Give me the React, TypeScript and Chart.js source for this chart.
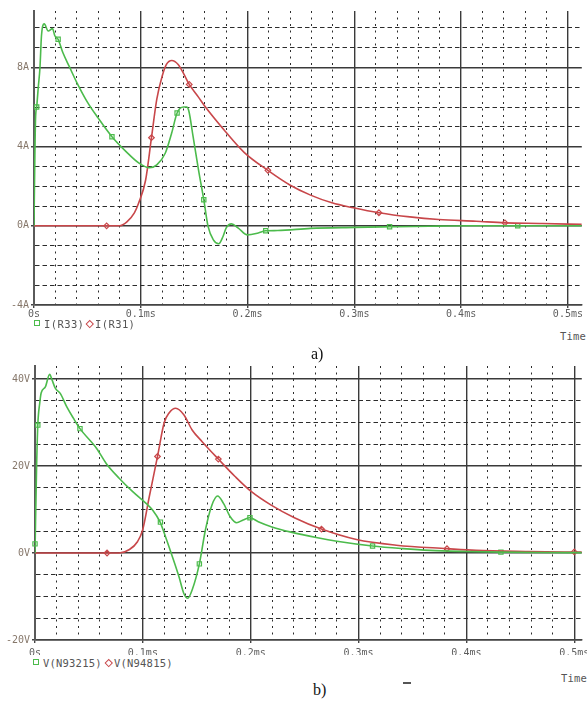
import React, { useEffect, useRef } from 'react';
import { Chart, registerables } from 'chart.js';
Chart.register(...registerables);

// ---------- shared x axis (time, ms) ----------
const xTickValues = [0, 0.1, 0.2, 0.3, 0.4, 0.5];
const xTickLabels = ['0s', '0.1ms', '0.2ms', '0.3ms', '0.4ms', '0.5ms'];

// ---------- panel a) currents ----------
const aGreenT = [0, 0.0008, 0.0015, 0.0025, 0.004, 0.0056, 0.007, 0.0096, 0.0133, 0.0173, 0.0195, 0.0226, 0.027, 0.033, 0.04, 0.05, 0.06, 0.073, 0.086, 0.098, 0.108, 0.115, 0.123, 0.129, 0.134, 0.14, 0.143, 0.145, 0.149, 0.154, 0.159, 0.163, 0.168, 0.173, 0.177, 0.18, 0.185, 0.191, 0.2, 0.21, 0.217, 0.228, 0.259, 0.3, 0.333, 0.37, 0.407, 0.453, 0.513];
const aGreenI = [0, 3.5, 5.5, 6.0, 7.0, 8.0, 9.6, 10.2, 9.84, 9.96, 9.6, 9.42, 8.75, 8.05, 7.25, 6.25, 5.45, 4.5, 3.76, 3.18, 2.93, 3.08, 3.68, 4.7, 5.7, 6.0, 6.0, 5.8, 4.5, 2.84, 1.32, -0.03, -0.71, -0.91, -0.54, -0.1, 0.1, -0.1, -0.46, -0.36, -0.25, -0.24, -0.13, -0.08, -0.05, -0.02, 0, 0, 0];
const aRedT = [0, 0.068, 0.08, 0.087, 0.094, 0.098, 0.1045, 0.11, 0.115, 0.12, 0.124, 0.129, 0.135, 0.14, 0.1454, 0.154, 0.16, 0.179, 0.197, 0.219, 0.24, 0.259, 0.279, 0.299, 0.323, 0.352, 0.379, 0.414, 0.441, 0.476, 0.513];
const aRedI = [0, 0, 0, 0.2, 0.65, 1.15, 2.3, 4.45, 6.4, 7.55, 8.15, 8.35, 8.15, 7.7, 7.14, 6.5, 6.04, 4.78, 3.7, 2.8, 2.05, 1.55, 1.16, 0.91, 0.66, 0.45, 0.32, 0.23, 0.15, 0.12, 0.07];
const aGreenMarkT = [0.0025, 0.0226, 0.073, 0.134, 0.159, 0.217, 0.333, 0.453];
const aGreenMarkI = [6.0, 9.42, 4.5, 5.7, 1.32, -0.25, -0.05, 0];
const aRedMarkT = [0.068, 0.11, 0.1454, 0.219, 0.323, 0.441];
const aRedMarkI = [0, 4.45, 7.14, 2.8, 0.66, 0.15];
const aYTickValues = [-4, 0, 4, 8];
const aYTickLabels = ['-4A', '0A', '4A', '8A'];

// ---------- panel b) voltages ----------
const bGreenT = [0, 0.0005, 0.0015, 0.0026, 0.0044, 0.0057, 0.0096, 0.0136, 0.0158, 0.0188, 0.0234, 0.0295, 0.0356, 0.0417, 0.057, 0.066, 0.078, 0.0906, 0.103, 0.109, 0.1158, 0.121, 0.1274, 0.1335, 0.138, 0.1417, 0.1457, 0.1524, 0.158, 0.164, 0.1693, 0.1748, 0.181, 0.187, 0.193, 0.1993, 0.207, 0.219, 0.2374, 0.262, 0.28, 0.313, 0.341, 0.366, 0.4, 0.432, 0.47, 0.507];
const bGreenV = [0, 7, 20, 29.4, 34.5, 36.8, 38.2, 41.1, 39.8, 37.9, 36.7, 33.6, 31.0, 28.6, 24.1, 20.6, 17.2, 14.1, 11.4, 9.9, 7.2, 3.75, -0.85, -5.45, -9.3, -10.4, -8.5, -2.5, 5.3, 11.0, 13.1, 11.4, 8.35, 6.97, 7.6, 8.1, 7.2, 6.05, 4.8, 3.5, 2.7, 1.6, 1.0, 0.6, 0.35, 0.2, 0.12, 0.08];
const bRedT = [0, 0.0668, 0.078, 0.0876, 0.095, 0.0998, 0.106, 0.1136, 0.1197, 0.1243, 0.1305, 0.138, 0.1457, 0.155, 0.17, 0.1855, 0.2007, 0.219, 0.2405, 0.2656, 0.298, 0.335, 0.382, 0.409, 0.457, 0.507];
const bRedV = [0, 0, 0, 0.8, 2.6, 5.3, 13, 22.2, 29.9, 32.2, 33.3, 31.8, 28.3, 25.6, 21.6, 17.6, 14.1, 11.0, 8.1, 5.5, 3.1, 1.8, 1.0, 0.6, 0.35, 0.2];
const bGreenMarkT = [0, 0.0026, 0.0417, 0.1163, 0.1524, 0.1993, 0.313, 0.432];
const bGreenMarkV = [2.1, 29.4, 28.6, 7.1, -2.5, 8.1, 1.6, 0.2];
const bRedMarkT = [0.0668, 0.1136, 0.17, 0.2656, 0.382, 0.5];
const bRedMarkV = [0, 22.2, 21.6, 5.5, 1.0, 0.25];
const bYTickValues = [-20, 0, 20, 40];
const bYTickLabels = ['-20V', '0V', '20V', '40V'];

const GREEN = '#4cbb4c';
const RED = '#c8474a';
const MONO = '"DejaVu Sans Mono", monospace';

type Spec = {
  lines: { t: number[]; v: number[]; color: string }[];
  marks: { t: number[]; v: number[]; color: string; style: string; r: number }[];
  xMax: number;
  yMin: number;
  yMax: number;
  yStep: number;
  yTop: number;
  yTickValues: number[];
  yTickLabels: string[];
  yWidth: number;
  padTop: number;
  xLabelPad: number;
};

const near = (a: number, b: number) => Math.abs(a - b) < 1e-6;

function buildChart(canvas: HTMLCanvasElement, s: Spec) {
  const xGrid: number[] = [];
  for (let k = 0; k <= 25; k++) xGrid.push(Math.round(k * 2) / 100);
  const yGrid: number[] = [];
  for (let v = s.yMin; v <= s.yTop + 1e-9; v += s.yStep) yGrid.push(v);
  const isXMajor = (v: number) => xTickValues.some((m) => near(m, v));
  const isYMajor = (v: number) => s.yTickValues.some((m) => near(m, v));

  const datasets: any[] = [];
  s.lines.forEach((l) => {
    datasets.push({
      data: l.t.map((t, i) => ({ x: t, y: l.v[i] })),
      borderColor: l.color,
      borderWidth: 1.6,
      pointRadius: 0,
      fill: false,
      cubicInterpolationMode: 'monotone',
    });
  });
  s.marks.forEach((m) => {
    datasets.push({
      data: m.t.map((t, i) => ({ x: t, y: m.v[i] })),
      showLine: false,
      pointStyle: m.style,
      pointRadius: m.r,
      pointBorderWidth: 1.2,
      pointBorderColor: m.color,
      pointBackgroundColor: 'rgba(0,0,0,0)',
      borderColor: m.color,
      clip: false,
    });
  });

  return new Chart(canvas, {
    type: 'line',
    data: { datasets },
    options: {
      animation: false,
      responsive: false,
      devicePixelRatio: 1,
      events: [],
      layout: { padding: { top: s.padTop, left: 0, right: 0, bottom: 0 } },
      plugins: { legend: { display: false }, tooltip: { enabled: false } },
      scales: {
        x: {
          type: 'linear',
          min: 0,
          max: s.xMax,
          bounds: 'data',
          afterBuildTicks: (sc: any) => {
            sc.ticks = xGrid.map((v) => ({ value: v }));
          },
          afterFit: (sc: any) => {
            sc.height = 15;
            sc.paddingLeft = 0;
            sc.paddingRight = 0;
          },
          ticks: {
            autoSkip: false,
            maxRotation: 0,
            padding: s.xLabelPad,
            color: '#5e5e5e',
            font: { family: MONO, size: 10 },
            callback: (v: any) => {
              const i = xTickValues.findIndex((m) => near(m, Number(v)));
              return i >= 0 ? xTickLabels[i] : '';
            },
          },
          grid: {
            color: (c: any) => (c.tick && isXMajor(c.tick.value) ? '#3a3a3a' : '#2c2c2c'),
            lineWidth: (c: any) => (c.tick && isXMajor(c.tick.value) ? 1.4 : 1),
            tickLength: 3,
            tickColor: (c: any) => (c.tick && isXMajor(c.tick.value) ? '#444' : 'rgba(0,0,0,0)'),
          },
          border: {
            display: true,
            color: '#444',
            width: 1.5,
            dash: (c: any) => (c.tick && !isXMajor(c.tick.value) ? [2, 4.5] : []),
          },
        },
        y: {
          type: 'linear',
          min: s.yMin,
          max: s.yMax,
          bounds: 'data',
          afterBuildTicks: (sc: any) => {
            sc.ticks = yGrid.map((v) => ({ value: v }));
          },
          afterFit: (sc: any) => {
            sc.width = s.yWidth;
            sc.paddingTop = 0;
            sc.paddingBottom = 0;
          },
          ticks: {
            autoSkip: false,
            padding: 2,
            color: '#86776a',
            font: { family: MONO, size: 10 },
            callback: (v: any) => {
              const i = s.yTickValues.findIndex((m) => near(m, Number(v)));
              return i >= 0 ? s.yTickLabels[i] : '';
            },
          },
          grid: {
            color: (c: any) => (c.tick && isYMajor(c.tick.value) ? '#3a3a3a' : '#2c2c2c'),
            lineWidth: (c: any) => (c.tick && isYMajor(c.tick.value) ? 1.4 : 1),
            tickLength: 3,
            tickColor: (c: any) => (c.tick && isYMajor(c.tick.value) ? '#444' : 'rgba(0,0,0,0)'),
          },
          border: {
            display: true,
            color: '#5a5a5a',
            width: 2,
            dash: (c: any) => (c.tick && !isYMajor(c.tick.value) ? [4.5, 3] : []),
          },
        },
      },
    } as any,
  });
}

const specA: Spec = {
  lines: [
    { t: aGreenT, v: aGreenI, color: GREEN },
    { t: aRedT, v: aRedI, color: RED },
  ],
  marks: [
    { t: aGreenMarkT, v: aGreenMarkI, color: GREEN, style: 'rect', r: 3 },
    { t: aRedMarkT, v: aRedMarkI, color: RED, style: 'rectRot', r: 2.8 },
  ],
  xMax: 0.513,
  yMin: -4,
  yMax: 10.85,
  yStep: 1,
  yTop: 10,
  yTickValues: aYTickValues,
  yTickLabels: aYTickLabels,
  yWidth: 34,
  padTop: 11,
  xLabelPad: 0,
};

const specB: Spec = {
  lines: [
    { t: bGreenT, v: bGreenV, color: GREEN },
    { t: bRedT, v: bRedV, color: RED },
  ],
  marks: [
    { t: bGreenMarkT, v: bGreenMarkV, color: GREEN, style: 'rect', r: 3 },
    { t: bRedMarkT, v: bRedMarkV, color: RED, style: 'rectRot', r: 2.8 },
  ],
  xMax: 0.507,
  yMin: -20,
  yMax: 43,
  yStep: 5,
  yTop: 40,
  yTickValues: bYTickValues,
  yTickLabels: bYTickLabels,
  yWidth: 35,
  padTop: 16,
  xLabelPad: 4,
};

const txt: React.CSSProperties = {
  position: 'absolute',
  fontFamily: MONO,
  fontSize: 10.5,
  lineHeight: '12px',
  color: '#555',
  whiteSpace: 'nowrap',
};

function Square({ left, top }: { left: number; top: number }) {
  return (
    <span
      style={{
        position: 'absolute',
        left,
        top,
        width: 4,
        height: 4,
        border: `1.3px solid ${GREEN}`,
      }}
    />
  );
}

function Diamond({ left, top }: { left: number; top: number }) {
  return (
    <span
      style={{
        position: 'absolute',
        left,
        top,
        width: 3.5,
        height: 3.5,
        border: `1.2px solid ${RED}`,
        transform: 'rotate(45deg)',
      }}
    />
  );
}

export default function App() {
  const refA = useRef<HTMLCanvasElement>(null);
  const refB = useRef<HTMLCanvasElement>(null);
  useEffect(() => {
    const ca = buildChart(refA.current as HTMLCanvasElement, specA);
    const cb = buildChart(refB.current as HTMLCanvasElement, specB);
    return () => {
      ca.destroy();
      cb.destroy();
    };
  }, []);

  return (
    <div
      style={{
        position: 'fixed',
        left: 0,
        top: 0,
        width: 587,
        height: 702,
        overflow: 'hidden',
        background: '#fff',
      }}
    >
      <canvas ref={refA} width={587} height={320} style={{ position: 'absolute', left: 0, top: 0 }} />
      <canvas ref={refB} width={587} height={305} style={{ position: 'absolute', left: 0, top: 350 }} />

      {/* legend a */}
      <Square left={34} top={320} />
      <span style={{ ...txt, left: 44, top: 318, letterSpacing: 0.4 }}>I(R33)</span>
      <Diamond left={87} top={321} />
      <span style={{ ...txt, left: 95, top: 318, letterSpacing: 0.4 }}>I(R31)</span>
      <span style={{ ...txt, left: 560, top: 330, letterSpacing: 0.2 }}>Time</span>
      <div
        style={{
          position: 'absolute',
          left: 311,
          top: 345,
          fontFamily: '"Liberation Serif", serif',
          fontSize: 16,
          lineHeight: '18px',
          color: '#111',
        }}
      >
        a)
      </div>

      {/* legend b */}
      <Square left={33} top={659} />
      <span style={{ ...txt, left: 43, top: 657, letterSpacing: 0.2 }}>V(N93215)</span>
      <Diamond left={106} top={660} />
      <span style={{ ...txt, left: 114, top: 657, letterSpacing: 0.2 }}>V(N94815)</span>
      <span style={{ ...txt, left: 561, top: 672, letterSpacing: 0.2 }}>Time</span>
      <span
        style={{ position: 'absolute', left: 403, top: 682, width: 8, height: 1.5, background: '#555' }}
      />
      <div
        style={{
          position: 'absolute',
          left: 313,
          top: 681,
          fontFamily: '"Liberation Serif", serif',
          fontSize: 16,
          lineHeight: '18px',
          color: '#111',
        }}
      >
        b)
      </div>
    </div>
  );
}
